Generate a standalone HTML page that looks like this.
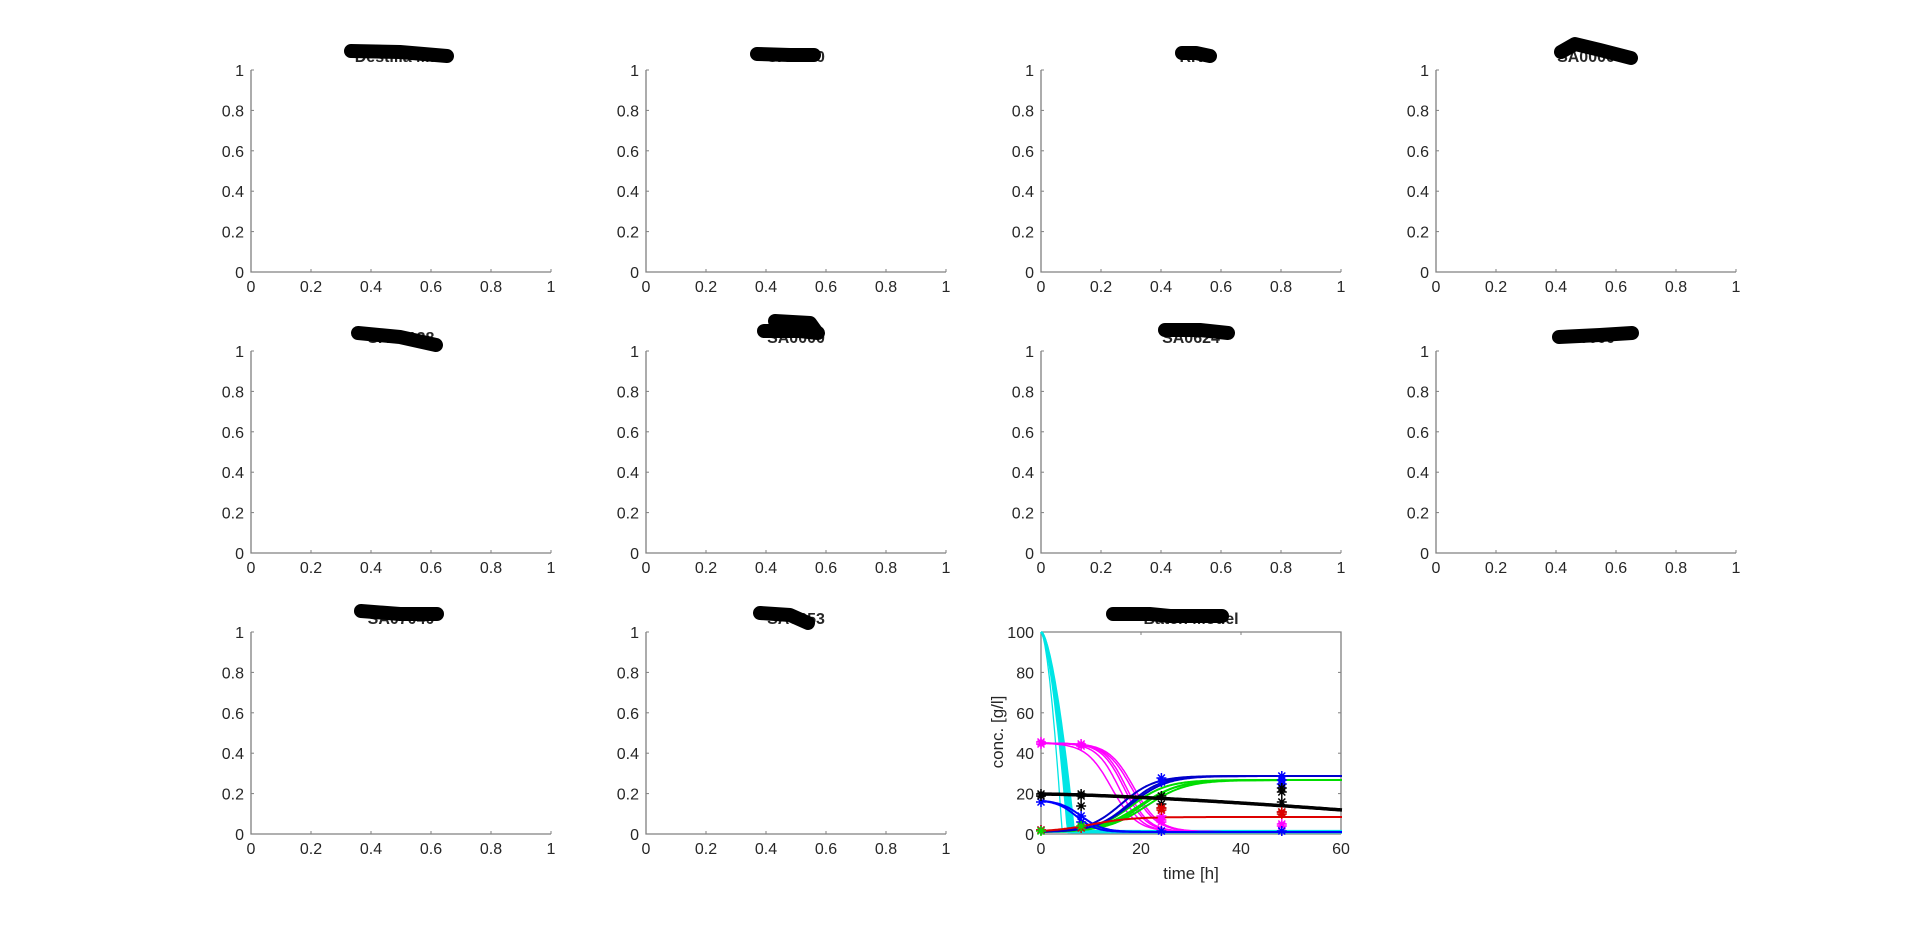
<!DOCTYPE html>
<html><head><meta charset="utf-8"><style>
html,body{margin:0;padding:0;background:#fff;}
svg{display:block;font-family:"Liberation Sans",Arial,sans-serif;}
</style></head><body>
<svg id="s" width="1920" height="936" viewBox="0 0 1920 936" xmlns="http://www.w3.org/2000/svg">
<rect width="1920" height="936" fill="#fff"/>
<g id="g"></g>
</svg>
<script>
const g=document.getElementById('g');
let h='';
const cols=[251,646,1041,1436], rows=[70,351,632], W=300, H=202;
const titles=[["Destilla Max",[[351,51],[400,52],[447,56]]],["SA0000",[[757,54],[790,55],[814,55]]],["RK",[[1182,53],[1196,53],[1210,56]]],["SA0000",[[1561,52],[1575,44],[1600,50],[1631,58]]],
["SA07138",[[358,333],[400,337],[436,345]]],["SA0000",[[764,331],[800,331],[818,333]],[[775,321],[810,323],[815,330]]],["SA0624",[[1165,330],[1200,330],[1228,333]]],["SA0000",[[1559,337],[1600,335],[1632,333]]],
["SA07040",[[361,611],[400,614],[437,614]]],["SA0653",[[760,613],[790,615],[808,623]]]];
function txt(x,y,s,a,sz,w){return `<text x="${x}" y="${y}" font-size="${sz||16}" fill="#262626" text-anchor="${a||'middle'}" ${w?'font-weight="bold"':''}>${s}</text>`;}
for(let i=0;i<11;i++){
 const c=i%4,r=Math.floor(i/4),x0=cols[c],y0=rows[r];
 const batch=i==10;
 h+=`<path d="M${x0} ${y0}V${y0+H}H${x0+W}" fill="none" stroke="#808080" stroke-width="1.3"/>`;
 if(batch) h+=`<path d="M${x0} ${y0}H${x0+W}V${y0+H}" fill="none" stroke="#808080" stroke-width="1.3"/>`;
 const nx=batch?[0,20,40,60]:[0,0.2,0.4,0.6,0.8,1];
 const ny=batch?[0,20,40,60,80,100]:[0,0.2,0.4,0.6,0.8,1];
 nx.forEach((v,k)=>{const px=x0+W*k/(nx.length-1);h+=`<line x1="${px}" y1="${y0+H}" x2="${px}" y2="${y0+H-3}" stroke="#808080"/>`;if(batch)h+=`<line x1="${px}" y1="${y0}" x2="${px}" y2="${y0+3}" stroke="#808080"/>`;h+=txt(px,y0+H+20,v);});
 ny.forEach((v,k)=>{const py=y0+H-H*k/(ny.length-1);h+=`<line x1="${x0}" y1="${py}" x2="${x0+3}" y2="${py}" stroke="#808080"/>`;if(batch)h+=`<line x1="${x0+W}" y1="${py}" x2="${x0+W-3}" y2="${py}" stroke="#808080"/>`;h+=txt(x0-7,py+6,v,'end');});
 if(!batch){const t=titles[i];h+=txt(x0+W/2,y0-8,t[0],'middle',16,1);
  for(let q=1;q<t.length;q++)h+=`<polyline points="${t[q].map(p=>p.join(',')).join(' ')}" fill="none" stroke="#000" stroke-width="14" stroke-linecap="round" stroke-linejoin="round"/>`;}
}
const x0=1041,y0=632;
h+=txt(1191,624,"Batch Model",'middle',16,1);
h+=`<polyline points="1113,614 1150,614 1170,616 1222,616" fill="none" stroke="#000" stroke-width="14" stroke-linecap="round"/>`;
h+=txt(1191,879,"time [h]",'middle',17);
h+=`<text transform="translate(1003,732) rotate(-90)" font-size="17" fill="#262626" text-anchor="middle">conc. [g/l]</text>`;
const X=t=>x0+t*301/60, Y=v=>y0+200-v*2;
function curve(f,col,w){let p=[];for(let t=0;t<=60;t+=0.25)p.push(X(t).toFixed(1)+','+Y(Math.max(0,Math.min(100,f(t)))).toFixed(1));h+=`<polyline points="${p.join(' ')}" fill="none" stroke="${col}" stroke-width="${w||1.5}"/>`;}
const L=(t,c,k)=>1/(1+Math.exp(-(t-c)*k));
[[4.2,1.3],[5.4,2.5],[5.8,2.5],[6.2,2.5],[6.6,2]].forEach(([T,w])=>curve(t=>t<T?100*(1-Math.pow(t/T,1.6)):0,'#00e5e5',w));
curve(t=>0.3,'#00e5e5',3);
[[14,0.4],[15.5,0.45],[16.5,0.45],[17,0.45],[18,0.4],[18.5,0.4]].forEach(([c,k])=>curve(t=>44*(1-L(t,c,k))+0.5-t*0.01,'#ff00ff',1.5));
[[18,0.28],[19.5,0.25],[21,0.25],[20,0.27]].forEach(([c,k])=>curve(t=>26*L(t,c,k),'#00dd00',2));
[[16,0.3],[17.5,0.3],[18,0.28]].forEach(([c,k])=>curve(t=>28*L(t,c,k),'#0000cc',2));
[[7,0.5],[8,0.45]].forEach(([c,k])=>curve(t=>16*(1-L(t,c,k)),'#0000ff',2));
curve(t=>7.5*L(t,10,0.25),'#dd0000',2);
curve(t=>19-8*Math.pow(t/60,1.4),'#000',3.5);
function star(t,v,col){const x=X(t),y=Y(v);h+=`<path d="M${x-5} ${y}H${x+5}M${x} ${y-5}V${y+5}M${x-3.5} ${y-3.5}L${x+3.5} ${y+3.5}M${x-3.5} ${y+3.5}L${x+3.5} ${y-3.5}" stroke="${col}" stroke-width="1.5"/>`;}
const m={'#ff00ff':[[0,44],[0,45],[8,43],[8,44],[24,6],[24,8],[24,5],[48,4],[48,3]],
'#0000ff':[[0,1],[0,15],[8,8],[8,5],[24,25],[24,27],[24,0.5],[48,28],[48,26],[48,24],[48,0.5]],
'#000000':[[0,18],[0,19],[8,18],[8,13],[8,19],[24,18],[24,12],[24,14],[48,20],[48,15],[48,10],[48,22]],
'#dd0000':[[0,1],[8,2],[24,11],[24,12],[48,10],[48,9]],'#00dd00':[[0,0.5],[8,3]]};
for(const c in m)m[c].forEach(p=>star(p[0],p[1],c));
g.innerHTML=h;
</script>
</body></html>
